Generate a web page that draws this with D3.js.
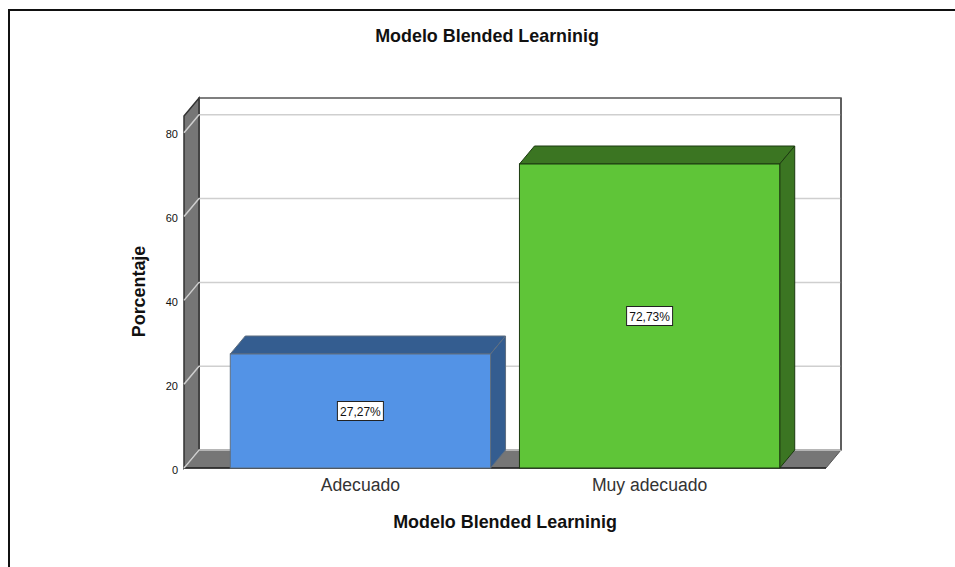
<!DOCTYPE html>
<html lang="en">
<head>
    <meta charset="UTF-8">
    <title>Modelo Blended Learninig</title>
    <script src="https://d3js.org/d3.v7.min.js"></script>
    <style>
        html, body { margin: 0; padding: 0; background: #fff; }
        svg { display: block; font-family: "Liberation Sans", Arial, sans-serif; }
        .axis-y path, .axis-y line, .axis-x path, .axis-x line { display: none; }
        .axis-y text { font-size: 11px; fill: #111; }
        .axis-x text { font-size: 17.6px; fill: #333; }
    </style>
</head>
<body>
    <svg width="955" height="567"></svg>

    <script>
        const categories = ["Adecuado", "Muy adecuado"];
        const percentages = [27.27, 72.73];
        const valueLabels = ["27,27%", "72,73%"];
        const yTicks = [0, 20, 40, 60, 80];
        const frontColors = ["#5393e6", "#5fc538"];
        const topColors = ["#345d90", "#3b7522"];
        const edgeColors = ["#5f6f80", "#1c3a10"];
        const titleText = "Modelo Blended Learninig";

        const svg = d3.select("svg");

        // Front plane of the 3D box and the depth offset to the back wall
        const plotLeft = 184, plotRight = 826, plotBottom = 468;
        const dx = 15, dy = -18;

        const x = d3.scaleBand().domain(categories).range([plotLeft, plotRight])
            .paddingInner(0.1).paddingOuter(0.16);
        const y = d3.scaleLinear().domain([0, 84]).range([plotBottom, 116]);
        const plotTop = y(84);

        const poly = (pts, fill, stroke, sw) => svg.append("polygon")
            .attr("points", pts.map(p => p.join(",")).join(" "))
            .attr("fill", fill).attr("stroke", stroke).attr("stroke-width", sw);

        // Outer image border, only top and left are visible
        svg.append("path").attr("d", "M9,567V10H955")
            .attr("fill", "none").attr("stroke", "#111").attr("stroke-width", 2);

        // Back wall
        svg.append("rect")
            .attr("x", plotLeft + dx).attr("y", plotTop + dy)
            .attr("width", plotRight - plotLeft).attr("height", plotBottom - plotTop)
            .attr("fill", "#fff").attr("stroke", "#555").attr("stroke-width", 1.5);

        // Left wall and floor
        poly([[plotLeft, plotTop], [plotLeft + dx, plotTop + dy], [plotLeft + dx, plotBottom + dy], [plotLeft, plotBottom]], "#767676", "#333", 1.5);
        poly([[plotLeft, plotBottom], [plotLeft + dx, plotBottom + dy], [plotRight + dx, plotBottom + dy], [plotRight, plotBottom]], "#767676", "#555", 1);
        svg.append("line").attr("x1", plotLeft).attr("x2", plotRight).attr("y1", plotBottom).attr("y2", plotBottom)
            .attr("stroke", "#222").attr("stroke-width", 1.5);

        // Gridlines run along the back wall and down the left wall
        yTicks.forEach(t => {
            svg.append("path")
                .attr("d", `M${plotLeft},${y(t)}L${plotLeft + dx},${y(t) + dy}H${plotRight + dx}`)
                .attr("fill", "none").attr("stroke", "#cfcfcf").attr("stroke-width", 1.5);
        });
        svg.append("line")
            .attr("x1", plotRight + dx).attr("x2", plotRight + dx)
            .attr("y1", plotTop + dy).attr("y2", plotBottom + dy)
            .attr("stroke", "#555").attr("stroke-width", 1.5);

        // Bars
        categories.forEach((c, i) => {
            const x0 = x(c), x1 = x0 + x.bandwidth(), y0 = Math.ceil(y(percentages[i]));
            poly([[x0, y0], [x0 + dx, y0 + dy], [x1 + dx, y0 + dy], [x1, y0]], topColors[i], edgeColors[i], 1);
            poly([[x1, y0], [x1 + dx, y0 + dy], [x1 + dx, plotBottom + dy], [x1, plotBottom]], topColors[i], edgeColors[i], 1);
            svg.append("rect")
                .attr("x", x0).attr("y", y0)
                .attr("width", x.bandwidth()).attr("height", plotBottom - y0)
                .attr("fill", frontColors[i]).attr("stroke", edgeColors[i]).attr("stroke-width", 1);

            // Value label box
            const cx = x0 + x.bandwidth() / 2, cy = (y0 + plotBottom) / 2;
            svg.append("rect")
                .attr("x", cx - 23).attr("y", cy - 9.5).attr("width", 46).attr("height", 19)
                .attr("fill", "#fff").attr("stroke", "#222").attr("stroke-width", 1);
            svg.append("text")
                .attr("x", cx).attr("y", cy + 4.5).attr("text-anchor", "middle")
                .attr("font-size", 12).attr("fill", "#111").text(valueLabels[i]);
        });

        // Axes
        svg.append("g").attr("class", "axis-y")
            .attr("transform", `translate(${plotLeft},1.5)`)
            .call(d3.axisLeft(y).tickValues(yTicks).tickSize(0).tickPadding(6));
        svg.append("g").attr("class", "axis-x")
            .attr("transform", `translate(0,${plotBottom})`)
            .call(d3.axisBottom(x).tickSize(0).tickPadding(11));

        // Titles
        svg.append("text").attr("x", 487).attr("y", 42).attr("text-anchor", "middle")
            .attr("font-size", 17.9).attr("font-weight", "bold").attr("fill", "#111").text(titleText);
        svg.append("text").attr("x", 505).attr("y", 528).attr("text-anchor", "middle")
            .attr("font-size", 17.9).attr("font-weight", "bold").attr("fill", "#111").text(titleText);
        svg.append("text").attr("transform", "translate(145,291.5) rotate(-90)").attr("text-anchor", "middle")
            .attr("font-size", 17.9).attr("font-weight", "bold").attr("fill", "#111").text("Porcentaje");
    </script>
</body>
</html>
